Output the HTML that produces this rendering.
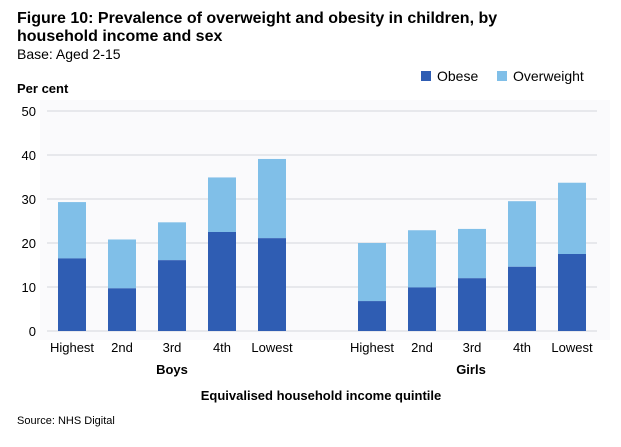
<!DOCTYPE html>
<html><head><meta charset="utf-8"><style>
body{margin:0;background:#fff;font-family:"Liberation Sans",Arial,sans-serif;}
svg text{font-family:"Liberation Sans",Arial,sans-serif;fill:#000;}
</style></head><body>
<svg width="621" height="442">
<rect x="0" y="0" width="621" height="442" fill="#fff"/>
<rect x="40" y="100" width="570" height="240" fill="#fafafc"/>
<text x="17" y="23" font-size="16" font-weight="bold">Figure 10: Prevalence of overweight and obesity in children, by</text>
<text x="17" y="41" font-size="16" font-weight="bold">household income and sex</text>
<text x="17" y="59" font-size="14">Base: Aged 2-15</text>
<rect x="421" y="71" width="10" height="10" fill="#2f5db3"/>
<text x="437" y="81" font-size="14">Obese</text>
<rect x="497" y="71" width="10" height="10" fill="#80bfe8"/>
<text x="513" y="81" font-size="14">Overweight</text>
<text x="17" y="93" font-size="13" font-weight="bold">Per cent</text>
<g id="grid"></g><g id="bars"></g><g id="labels"></g>
<text x="172" y="374" font-size="13" font-weight="bold" text-anchor="middle">Boys</text>
<text x="471" y="374" font-size="13" font-weight="bold" text-anchor="middle">Girls</text>
<text x="321" y="400" font-size="13" font-weight="bold" text-anchor="middle">Equivalised household income quintile</text>
<text x="17" y="424" font-size="11">Source: NHS Digital</text>
</svg>
<script>
const categories=["Highest","2nd","3rd","4th","Lowest"];
const boysObese=[16.5,9.7,16.1,22.5,21.1];
const boysTotal=[29.3,20.8,24.7,34.9,39.1];
const girlsObese=[6.8,9.9,12.0,14.6,17.5];
const girlsTotal=[20.0,22.9,23.2,29.5,33.7];
const yTicks=[0,10,20,30,40,50];
const NS="http://www.w3.org/2000/svg";
const y=v=>331-v*4.4;
const xc=i=>72+i*50;
function mk(t,a,p){const e=document.createElementNS(NS,t);for(const k in a)e.setAttribute(k,a[k]);document.getElementById(p).appendChild(e);return e;}
yTicks.forEach(t=>{
 const l=mk('line',{x1:47,x2:597,y1:y(t),y2:y(t),stroke:'#dcdde2','stroke-width':1.2},'grid');
 
 
 const tx=mk('text',{x:36,y:y(t)+5,'font-size':13,'text-anchor':'end'},'grid');tx.textContent=t;
 
 
});
function series(ob,tot,off,g){
 categories.forEach((c,i)=>{
  const cx=xc(i+off);
  const r1=mk('rect',{x:cx-14,y:y(tot[i]),width:28,height:y(ob[i])-y(tot[i]),fill:'#80bfe8'},'bars');
  
  
  const r2=mk('rect',{x:cx-14,y:y(ob[i]),width:28,height:y(0)-y(ob[i]),fill:'#2f5db3'},'bars');
  
  
  const t=mk('text',{x:cx,y:352,'font-size':13,'text-anchor':'middle'},'labels');t.textContent=c;
  
  
 });
}
series(boysObese,boysTotal,0,'boys');
series(girlsObese,girlsTotal,6,'girls');
</script>
</body></html>
